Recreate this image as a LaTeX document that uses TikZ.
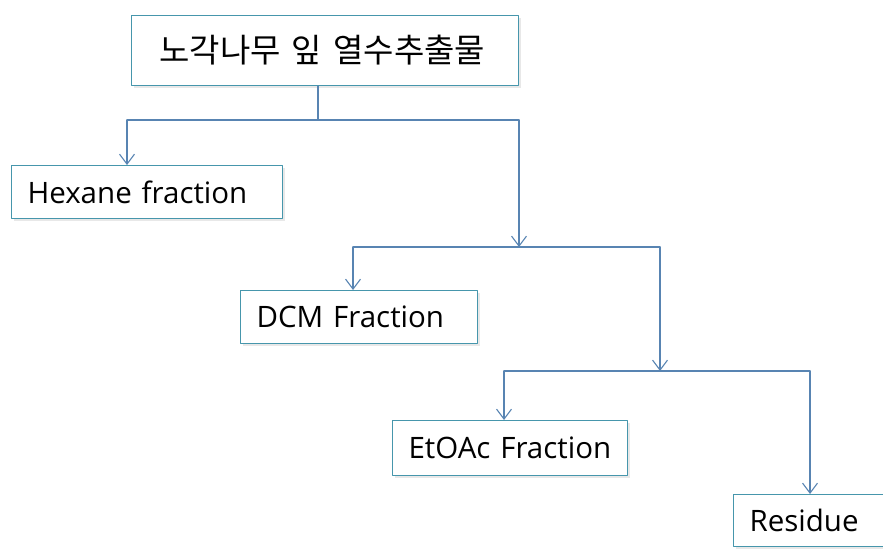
\documentclass[tikz,border=0pt]{standalone}
\usepackage{fontspec}
\setmainfont{Open Sans}
\newfontfamily\krfont{Noto Sans CJK KR}
\usetikzlibrary{arrows.meta,shadows}
\definecolor{boxline}{RGB}{70,150,172}
\definecolor{linkline}{RGB}{88,132,178}
\begin{document}
\begin{tikzpicture}[x=1pt, y=-1pt, line cap=round, line join=round,
    fbox/.style={draw=boxline, line width=1.1pt, fill=white, anchor=north west,
      inner xsep=16pt, inner ysep=0pt, align=left,
      drop shadow={shadow xshift=2pt, shadow yshift=-2pt, opacity=0.18},
      font=\fontsize{29.5}{34}\selectfont},
    link/.style={draw=linkline, line width=1.1pt},
    flow/.style={link, -{Straight Barb[length=10pt, width=15pt, line width=1.1pt]}}]
  \useasboundingbox (0,0) rectangle (883,549);
  \clip (0,0) rectangle (883,549);
  \node[fbox, inner xsep=28pt, text width=331pt, minimum height=70pt,
    font=\krfont\fontsize{33}{38}\selectfont] (extract) at (131,15) {노각나무 잎 열수추출물};
  \node[fbox, text width=239pt, minimum height=53pt] (hexane) at (11,165) {Hexane fraction};
  \node[fbox, text width=205pt, minimum height=53pt] (dcm) at (240,290) {DCM Fraction};
  \node[fbox, text width=203pt, minimum height=55pt] (etoac) at (392,420) {EtOAc Fraction};
  \node[fbox, text width=180pt, minimum height=52pt] (residue) at (733,494) {Residue};
  \coordinate (s1) at (318,120);
  \coordinate (l1) at (127,120);
  \coordinate (r1) at (519,120);
  \coordinate (s2) at (519,247);
  \coordinate (l2) at (353,247);
  \coordinate (r2) at (660,247);
  \coordinate (s3) at (660,371);
  \coordinate (l3) at (504,371);
  \coordinate (r3) at (810,371);
  \draw[link] (extract.south -| s1) -- (s1);
  \draw[link] (l1) -- (r1);
  \draw[flow] (l1) -- (hexane.north -| l1);
  \draw[flow] (r1) -- (s2);
  \draw[link] (l2) -- (r2);
  \draw[flow] (l2) -- (dcm.north -| l2);
  \draw[flow] (r2) -- (s3);
  \draw[link] (l3) -- (r3);
  \draw[flow] (l3) -- (etoac.north -| l3);
  \draw[flow] (r3) -- (residue.north -| r3);
\end{tikzpicture}
\end{document}
